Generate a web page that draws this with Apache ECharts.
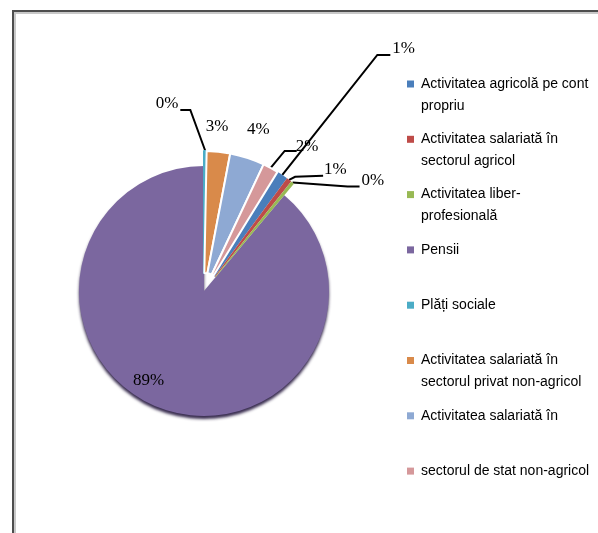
<!DOCTYPE html>
<html><head><meta charset="utf-8">
<script src="https://cdn.jsdelivr.net/npm/echarts@6/dist/echarts.min.js"></script>
<style>html,body{margin:0;padding:0;background:#fff}#c{width:598px;height:533px}</style>
</head><body><div id="c"></div>
<script>
// ---- data ----
const categories = [
  'Activitatea agricolă pe cont propriu',
  'Activitatea salariată în sectorul agricol',
  'Activitatea liber-profesională',
  'Pensii',
  'Plăți sociale',
  'Activitatea salariată în sectorul privat non-agricol',
  'Activitatea salariată în',
  'sectorul de stat non-agricol'
];
const shares = [1.3, 0.6, 0.4, 88.9, 0.3, 2.7, 4.0, 1.8];
const legendLines = [
  ['Activitatea agricolă pe cont', 'propriu'],
  ['Activitatea salariată în', 'sectorul agricol'],
  ['Activitatea liber-', 'profesională'],
  ['Pensii'],
  ['Plăți sociale'],
  ['Activitatea salariată în', 'sectorul privat non-agricol'],
  ['Activitatea salariată în'],
  ['sectorul de stat non-agricol']
];
const mainIndex = 3; // Pensii: the unexploded slice

// ---- styles ----
const colors = ['#4A7EBB', '#BE4B48', '#98B954', '#7B679F', '#4BACC6', '#D98A4A', '#8EA9D3', '#D5989A'];
const CENTER = [204, 291];
const labelGeom = {
  0: { bend: [95, -120], end: [108, -120], align: 'left', off: [2, -6] },
  1: { bend: [6, -3], end: [34, -4], align: 'left', off: [1, -6] },
  2: { bend: [55, 4], end: [67, 4], align: 'left', off: [2, -6] },
  4: { bend: [-15, -41], end: [-25, -41], align: 'right', off: [-2, -6] },
  5: { bend: null, end: [-1.5, -25], align: 'center', off: [0, 0] },
  6: { bend: null, end: [11, -28], align: 'center', off: [0, 0] },
  7: { bend: [14, -17], end: [26, -17], align: 'left', off: [-1, -4] }
};
const sliceBorder = {
  4: { borderColor: colors[4], borderWidth: 2 },
  5: { borderColor: '#fff', borderWidth: 2 },
  6: { borderColor: '#fff', borderWidth: 2 },
  7: { borderColor: '#fff', borderWidth: 2 }
};

const total = shares.reduce((a, b) => a + b, 0);
const afterMain = shares.slice(mainIndex + 1).reduce((a, b) => a + b, 0);
const startAngle = 90 - 360 * afterMain / total;
const pct = p => Math.round(p.percent) + '%';
const labelFont = { fontFamily: 'Liberation Serif', fontSize: 17, color: '#000' };

const mainData = categories.map((n, i) => i === mainIndex
  ? { name: n, value: shares[i], itemStyle: { color: colors[i], shadowColor: 'rgba(45,33,70,0.95)', shadowBlur: 3, shadowOffsetY: 3 },
      label: { show: true, position: 'inside' } }
  : { name: n, value: shares[i], itemStyle: { color: 'rgba(0,0,0,0)' }, label: { show: false }, labelLine: { show: false } });

const explodedData = categories.map((n, i) => i === mainIndex
  ? { name: n, value: shares[i], itemStyle: { color: 'rgba(0,0,0,0)' }, label: { show: false }, labelLine: { show: false } }
  : { name: n, value: shares[i], itemStyle: Object.assign({ color: colors[i] }, sliceBorder[i] || { borderWidth: 0 }) });

const chart = echarts.init(document.getElementById('c'));
chart.setOption({
  animation: false,
  backgroundColor: '#fff',
  graphic: [
    { type: 'line', shape: { x1: 13, y1: 11, x2: 598, y2: 11 }, style: { stroke: '#4d4d4d', lineWidth: 2 } },
    { type: 'line', shape: { x1: 13, y1: 10, x2: 13, y2: 533 }, style: { stroke: '#4d4d4d', lineWidth: 2 } },
    { type: 'line', shape: { x1: 14, y1: 13, x2: 598, y2: 13 }, style: { stroke: '#c8c8c8', lineWidth: 2 } },
    { type: 'line', shape: { x1: 15, y1: 12, x2: 15, y2: 533 }, style: { stroke: '#c8c8c8', lineWidth: 2 } }
  ],
  legend: {
    orient: 'vertical', left: 407, top: 51, padding: 0, itemGap: -10.7,
    itemWidth: 7, itemHeight: 7, icon: 'rect', selectedMode: false,
    data: categories.map((n, i) => ({ name: n, itemStyle: { color: colors[i], borderWidth: 0, opacity: 1, shadowBlur: 0, shadowOffsetY: 0 } })),
    formatter: name => {
      const l = legendLines[categories.indexOf(name)];
      return ' \n' + l[0] + '\n' + (l[1] || ' ');
    },
    textStyle: { fontFamily: 'Liberation Sans', fontSize: 14, lineHeight: 22, color: '#000', padding: [0, 0, 0, 2] }
  },
  series: [
    {
      type: 'pie', center: CENTER, radius: [0, 125], startAngle: startAngle, clockwise: true,
      avoidLabelOverlap: false, emphasis: { disabled: true }, silent: true,
      label: Object.assign({ formatter: pct }, labelFont),
      labelLayout: p => p.dataIndex === mainIndex ? { dx: -33, dy: 28 } : {},
      data: mainData
    },
    {
      type: 'pie', center: CENTER, radius: [18, 140], startAngle: startAngle, clockwise: true,
      avoidLabelOverlap: false, emphasis: { disabled: true }, silent: true,
      label: Object.assign({ show: true, position: 'outside', formatter: pct }, labelFont),
      labelLine: { show: true, length: 10, length2: 10, lineStyle: { color: '#000', width: 2 } },
      labelLayout: p => {
        const g = labelGeom[p.dataIndex];
        if (!g || !p.labelLinePoints) return {};
        const s = p.labelLinePoints[0];
        const e = [s[0] + g.end[0], s[1] + g.end[1]];
        const pts = g.bend ? [s, [s[0] + g.bend[0], s[1] + g.bend[1]], e] : [s, s, s];
        return { x: e[0] + g.off[0], y: e[1] + g.off[1], align: g.align, verticalAlign: 'middle', labelLinePoints: pts };
      },
      data: explodedData
    }
  ]
});
</script></body></html>
